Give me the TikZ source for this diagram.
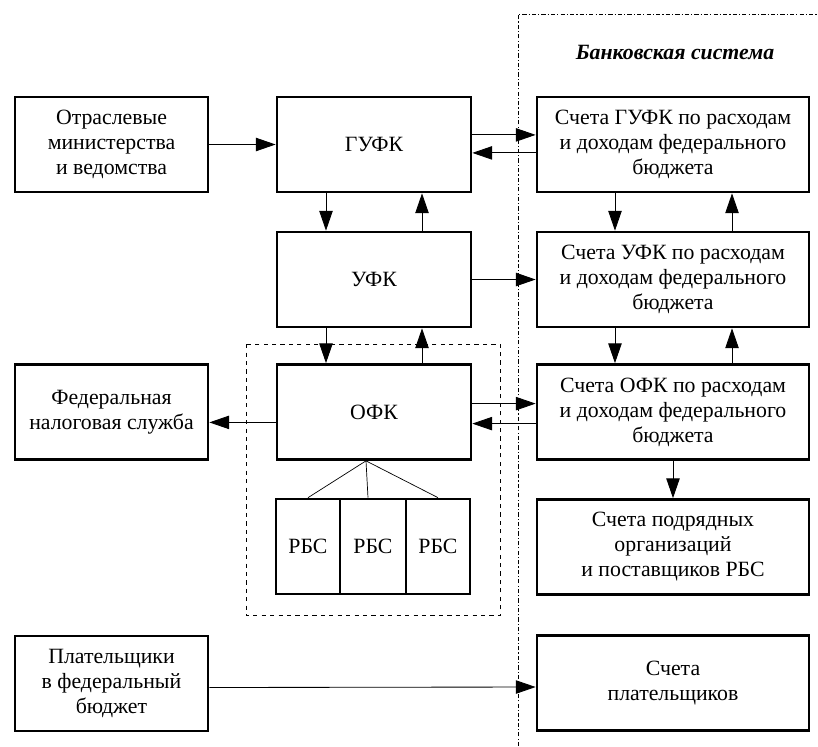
\documentclass[tikz,border=0pt]{standalone}
\usepackage{fontspec}
\setmainfont{Liberation Serif}
\usepackage{tikz}
\usetikzlibrary{arrows.meta, positioning}
\tikzset{
  blockbox/.style={draw, line width=1.9pt, align=center, minimum height=2.375cm,
    inner sep=2pt, font=\fontsize{15.5}{17.8}\selectfont}
}
\tikzset{
  leftbox/.style={blockbox, minimum width=4.825cm},
  midbox/.style={blockbox, minimum width=4.85cm},
  bankbox/.style={blockbox, minimum width=6.8cm},
  flow/.style={->, line width=0.6pt}
}
\tikzset{
  banktext/.style={font=\fontsize{15.5}{17.8}\selectfont\bfseries\itshape}
}

\begin{document}
\begin{tikzpicture}[x=0.025cm, y=-0.025cm, >={Triangle[length=14pt, width=9.5pt]}]
      \useasboundingbox (0,0) rectangle (818,746);
      % left column
      \node[leftbox] (otrasl) at (111.5,144.5) {Отраслевые\\ министерства\\ и ведомства};
      \node[leftbox] (fns) at (111.5,412) {Федеральная\\ налоговая служба};
      \node[leftbox] (payers) at (111.5,683.5) {Плательщики\\ в федеральный\\ бюджет};
      % treasury column
      \node[midbox] (gufk) at (374,144.5) {ГУФК};
      \node[midbox] (ufk) at (374,279.5) {УФК};
      \node[midbox] (ofk) at (374,412) {ОФК};
      \node[blockbox, minimum width=1.6cm] (rbs1) at (308,546.5) {РБС};
      \node[blockbox, minimum width=1.65cm] (rbs2) at (373,546.5) {РБС};
      \node[blockbox, minimum width=1.6cm] (rbs3) at (438,546.5) {РБС};
      \draw[dashed, line width=0.5pt] ([xshift=-0.74cm, yshift=0.475cm]ofk.north west)
        rectangle ([xshift=0.725cm, yshift=-0.5cm]rbs3.south east);
      % banking system
      \coordinate (bankcorner) at (518,14);
      \draw[line width=0.5pt, dash pattern=on 3pt off 1.5pt on 0.8pt off 1.5pt]
        (518,746) -- (bankcorner) -- (818,14);
      \node[banktext] (banktitle) at (675,52) {Банковская система};
      \node[bankbox] (gufkacc) at (673,144.5) {Счета ГУФК по расходам\\ и доходам федерального\\ бюджета};
      \node[bankbox] (ufkacc) at (673,279.5) {Счета УФК по расходам\\ и доходам федерального\\ бюджета};
      \node[bankbox] (ofkacc) at (673,412) {Счета ОФК по расходам\\ и доходам федерального\\ бюджета};
      \node[bankbox] (supplacc) at (673,547) {Счета подрядных\\ организаций\\ и поставщиков РБС};
      \node[bankbox] (payacc) at (673,683) {Счета\\ плательщиков};
      % ministries into GUFK
      \draw[flow] (otrasl) -- (gufk);
      % GUFK and its accounts
      \draw[flow] ([yshift=0.24cm]gufk.east) -- ([yshift=0.24cm]gufkacc.west);
      \draw[flow] ([yshift=-0.21cm]gufkacc.west) -- ([yshift=-0.21cm]gufk.east);
      % down and up the treasury
      \draw[flow] ([xshift=-1.2cm]gufk.south) -- ([xshift=-1.2cm]ufk.north);
      \draw[flow] ([xshift=1.2cm]ufk.north) -- ([xshift=1.2cm]gufk.south);
      \draw[flow] ([xshift=-1.2cm]ufk.south) -- ([xshift=-1.2cm]ofk.north);
      \draw[flow] ([xshift=1.2cm]ofk.north) -- ([xshift=1.2cm]ufk.south);
      % UFK to its accounts
      \draw[flow] (ufk) -- (ufkacc);
      % OFK to tax service and accounts
      \draw[flow] ([yshift=-0.26cm]ofk.west) -- ([yshift=-0.26cm]fns.east);
      \draw[flow] ([yshift=0.21cm]ofk.east) -- ([yshift=0.21cm]ofkacc.west);
      \draw[flow] ([yshift=-0.29cm]ofkacc.west) -- ([yshift=-0.29cm]ofk.east);
      % OFK over the RBS
      \draw[line width=0.5pt] ([xshift=-0.2cm]ofk.south) -- (rbs1.north);
      \draw[line width=0.5pt] ([xshift=-0.2cm]ofk.south) -- ([xshift=-0.125cm]rbs2.north);
      \draw[line width=0.5pt] ([xshift=-0.2cm]ofk.south) -- (rbs3.north);
      % accounts column
      \draw[flow] ([xshift=-1.45cm]gufkacc.south) -- ([xshift=-1.45cm]ufkacc.north);
      \draw[flow] ([xshift=1.475cm]ufkacc.north) -- ([xshift=1.475cm]gufkacc.south);
      \draw[flow] ([xshift=-1.45cm]ufkacc.south) -- ([xshift=-1.45cm]ofkacc.north);
      \draw[flow] ([xshift=1.475cm]ofkacc.north) -- ([xshift=1.475cm]ufkacc.south);
      \draw[flow] (ofkacc) -- (supplacc);
      % payers to their accounts
      \draw[flow] ([yshift=-0.1cm]payers.east) -- ([yshift=-0.1cm]payacc.west);
    \end{tikzpicture}
\end{document}
